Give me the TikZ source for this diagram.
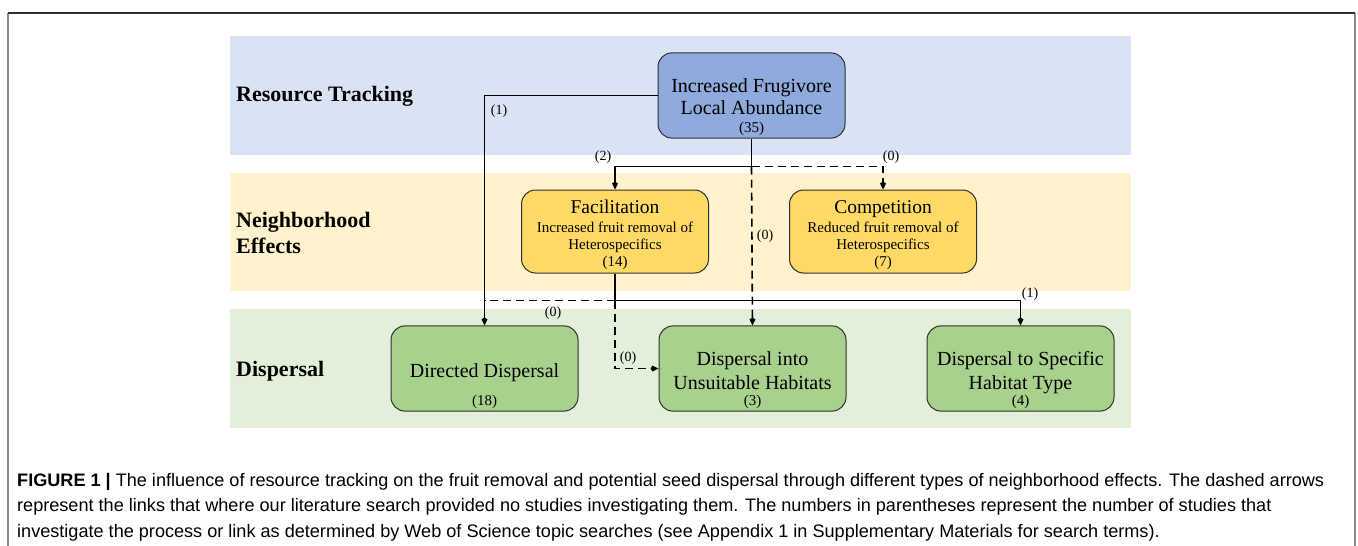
\documentclass[tikz,border=0pt]{standalone}
\usepackage{fontspec}
\setmainfont{Liberation Serif}
\newfontfamily\capfont{Liberation Sans}
\usetikzlibrary{arrows.meta,positioning}
\definecolor{bandblue}{HTML}{DAE3F3}
\definecolor{bandyellow}{HTML}{FFF2CC}
\definecolor{bandgreen}{HTML}{E2F0D9}
\definecolor{boxblue}{HTML}{8FAADC}
\definecolor{boxyellow}{HTML}{FFD966}
\definecolor{boxgreen}{HTML}{A9D18E}
\definecolor{boxline}{HTML}{2F2F2F}
\definecolor{framegray}{HTML}{8A8A8A}
\def\lgtxt#1{{\fontsize{19.5}{22}\selectfont #1}}
\def\smtxt#1{{\fontsize{15}{17}\selectfont #1}}

\begin{document}
\begin{tikzpicture}[x=1pt,y=-1pt,
  k/.style={rectangle,draw=boxline,line width=1pt,rounded corners=14pt,minimum width=187pt,minimum height=83pt,align=center,inner sep=2pt,font=\fontsize{20}{22}\selectfont},
  hd/.style={anchor=west,inner sep=0pt,align=left,font=\fontsize{22}{26}\selectfont\bfseries},
  lnk/.style={line width=1.6pt,-{Kite[length=8pt,width=6pt]}},
  dsh/.style={dash pattern=on 8pt off 5pt},
  nr/.style={inner sep=1pt,font=\fontsize{14}{16}\selectfont}]
  \useasboundingbox (0,0) rectangle (1358,546);

  % frame and bands
  \draw[framegray,line width=1.3pt] (8,546) -- (8,13) (1355,13) -- (1355,546);
  \draw[boxline,line width=1.3pt] (8,13) -- (1355,13);
  \fill[bandblue] (230,36) rectangle (1131,155);
  \fill[bandyellow] (230,173) rectangle (1131,291);
  \fill[bandgreen] (230,309) rectangle (1131,428);

  \node[hd] (hres) at (236,96) {Resource Tracking};
  \node[hd] (hnbh) at (236,233) {Neighborhood\\Effects};
  \node[hd] (hdis) at (236,371) {Dispersal};

  % boxes
  \node[k,fill=boxblue] (abund) at (751.5,95.5) {\\[16pt]Increased Frugivore\\Local Abundance\\[-4pt]\smtxt{(35)}};
  \node[k,fill=boxyellow] (facil) at (615,231.5) {\\[-1pt]\lgtxt{Facilitation}\\[-3pt]\smtxt{Increased fruit removal of}\\[-5pt]\smtxt{Heterospecifics}\\[-5pt]\smtxt{(14)}};
  \node[k,fill=boxyellow,right=80pt] (compet) at (facil.east) {\\[-1pt]\lgtxt{Competition}\\[-3pt]\smtxt{Reduced fruit removal of}\\[-5pt]\smtxt{Heterospecifics}\\[-5pt]\smtxt{(7)}};
  \node[k,fill=boxgreen] (dirdisp) at (484.5,368.5) {\\[28pt]Directed Dispersal\\[6pt]\smtxt{(18)}};
  \node[k,fill=boxgreen,right=80pt] (unsuit) at (dirdisp.east) {\\[16pt]Dispersal into\\[2pt]Unsuitable Habitats\\[-6pt]\smtxt{(3)}};
  \node[k,fill=boxgreen,right=80pt] (specific) at (unsuit.east) {\\[16pt]Dispersal to Specific\\[2pt]Habitat Type\\[-6pt]\smtxt{(4)}};

  % links
  \path (abund.south) ++(0,28) coordinate (jtop);
  \path (facil.south) ++(0,27) coordinate (jbot);
  \coordinate (jleft) at (jbot -| dirdisp.north);

  \draw[lnk] (abund.west) -| (dirdisp.north);
  \draw[lnk] (abund.south) -- (jtop) -| (facil.north);
  \draw[lnk,dsh] (jtop) -| (compet.north);
  \draw[lnk,dsh] (jtop) -- (unsuit.north);
  \draw[lnk] (facil.south) -- (jbot) -| (specific.north);
  \draw[line width=1.6pt,dsh] (jbot) -- (jleft);
  \draw[lnk,dsh] (jbot) |- (unsuit.west);

  \node[nr] (l1) at (499,111) {(1)};
  \node[nr] (l2) at (603,157) {(2)};
  \node[nr] (l3) at (891,157) {(0)};
  \node[nr] (l4) at (765,236) {(0)};
  \node[nr] (l5) at (1030,294) {(1)};
  \node[nr] (l6) at (553,313) {(0)};
  \node[nr] (l7) at (628,358) {(0)};

  % caption
  \node[anchor=north west,inner sep=0pt,align=left,font=\capfont\fontsize{18.1}{25.5}\selectfont] (cap) at (17,473) {\textbf{FIGURE 1 |} The influence of resource tracking on the fruit removal and potential seed dispersal through different types of neighborhood effects. The dashed arrows\\represent the links that where our literature search provided no studies investigating them. The numbers in parentheses represent the number of studies that\\investigate the process or link as determined by Web of Science topic searches (see Appendix 1 in Supplementary Materials for search terms).};
\end{tikzpicture}
\end{document}
